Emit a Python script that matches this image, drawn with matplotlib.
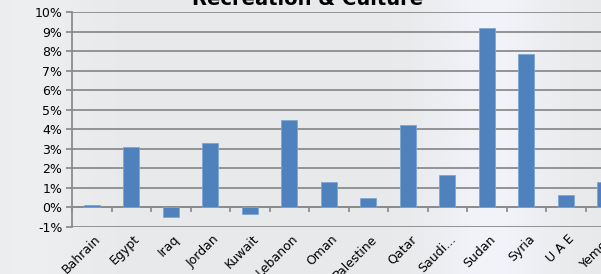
import numpy as np
import matplotlib
matplotlib.use('Agg')
import matplotlib.pyplot as plt
from matplotlib.ticker import FuncFormatter

countries = ['Bahrain', 'Egypt', 'Iraq', 'Jordan', 'Kuwait', 'Lebanon', 'Oman',
             'Palestine', 'Qatar', 'Saudi...', 'Sudan', 'Syria', 'U A E', 'Yemen']
values = [0.15, 3.1, -0.5, 3.3, -0.35, 4.5, 1.3, 0.5, 4.2, 1.65, 9.2, 7.85, 0.65, 1.3]

W, H = 601, 274
fig = plt.figure(figsize=(W / 100, H / 100), dpi=100)

# soft grey / light blue backdrop like the slide picture
bg = fig.add_axes([0, 0, 1, 1], zorder=-10)
gx = np.linspace(0, 1, 300)
r = 0.91 + 0.04 * np.exp(-((gx - 0.82) / 0.1) ** 2) + 0.02 * np.exp(-((gx - 0.05) / 0.1) ** 2)
img = np.zeros((2, 300, 3))
img[:, :, 0] = r
img[:, :, 1] = r + 0.005
img[:, :, 2] = r + 0.01 + 0.02 * np.exp(-((gx - 0.82) / 0.1) ** 2)
bg.imshow(np.clip(img, 0, 1), aspect='auto', extent=[0, 1, 0, 1])
bg.axis('off')

left = 72 / W
bottom = 1 - 227 / H
top = 1 - 12 / H
ax = fig.add_axes([left, bottom, 39.5 * 14 / W, top - bottom])
ax.patch.set_alpha(0)

x = np.arange(len(countries))
ax.bar(x, values, width=0.4, color='#4f81bd', edgecolor='#7ea5d4', linewidth=0.6, zorder=3)

ax.set_xlim(-0.5, len(countries) - 0.5)
ax.set_ylim(-1, 10)
ax.set_yticks(np.arange(-1, 11, 1))
ax.yaxis.set_major_formatter(FuncFormatter(lambda v, p: '%d%%' % round(v)))
ax.grid(axis='y', color='#8c8c8c', linewidth=1.3, zorder=1)

for s in ['top', 'right', 'bottom']:
    ax.spines[s].set_visible(False)
ax.spines['left'].set_color('#8c8c8c')
ax.spines['left'].set_linewidth(1.3)

# category axis crosses at 0
ax.axhline(0, color='#8c8c8c', linewidth=1.3, zorder=2)
for i in range(len(countries) + 1):
    ax.plot([i - 0.5, i - 0.5], [0, -0.2], color='#8c8c8c', linewidth=1.3, clip_on=False, zorder=2)

ax.tick_params(axis='y', length=4, color='#8c8c8c', width=1.3, labelsize=9, pad=3)
ax.set_xticks(x + 0.05)
ax.set_xticklabels(countries, rotation=45, ha='right', va='top', rotation_mode='anchor', fontsize=9)
ax.tick_params(axis='x', length=0, pad=4)

fig.text(308 / W, 1 - 5 / H, 'Recreation & Culture', ha='center', va='baseline',
         fontsize=14, fontweight='bold')

fig.savefig('out.png', dpi=100)
